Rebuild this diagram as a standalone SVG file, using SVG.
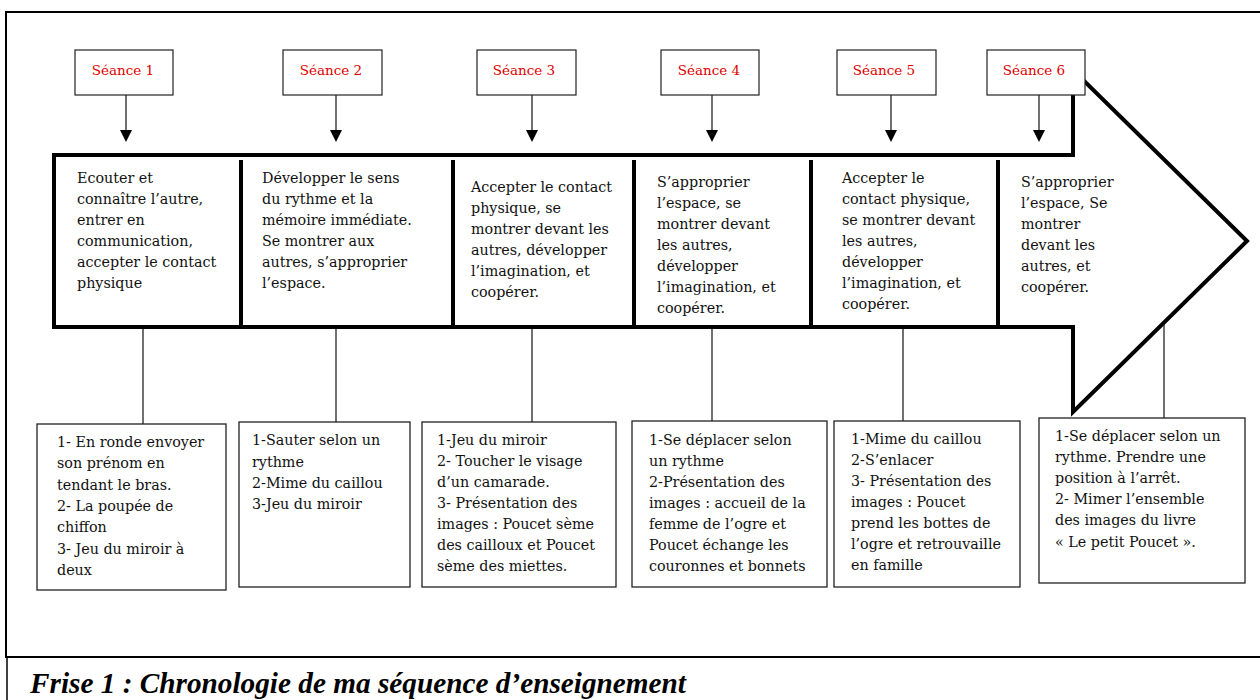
<svg xmlns="http://www.w3.org/2000/svg" width="1260" height="700" viewBox="0 0 1260 700">
<defs>
<marker id="ah" markerWidth="12" markerHeight="12" refX="1" refY="6" orient="auto" markerUnits="userSpaceOnUse" viewBox="0 0 12 12">
<path d="M0,0 L12,6 L0,12 Z" fill="#000"/>
</marker>
<style>
.frame{fill:none;stroke:#000;stroke-width:2}
.sbox{fill:#fff;stroke:#222;stroke-width:1.2}
.slabel{font-family:"DejaVu Serif","Liberation Serif",serif;font-size:13.5px;fill:#e00000;text-anchor:middle}
.big{fill:#fff;stroke:#000;stroke-width:4;stroke-linejoin:miter}
.div{stroke:#000;stroke-width:4}
.t{font-family:"DejaVu Serif","Liberation Serif",serif;font-size:14.3px;fill:#111}
.bbox{fill:#fff;stroke:#222;stroke-width:1.3}
.conn{stroke:#111;stroke-width:1.2;fill:none}
.arr{stroke:#111;stroke-width:1.2;fill:none}
.cap{font-family:"Liberation Serif",serif;font-size:29px;font-weight:bold;font-style:italic;fill:#000}
</style>
</defs>
<rect x="0" y="0" width="1260" height="700" fill="#fff"/>
<g id="frame">
<rect class="frame" x="6" y="12" width="1260" height="645"/>
<line x1="7" y1="657" x2="7" y2="700" stroke="#000" stroke-width="1.5"/>
</g>
<g id="timeline-arrow">
<polygon class="big" points="54,155 1073,155 1073,70 1247,241 1073,412 1073,327 54,327"/>
<line class="div" x1="241" y1="160" x2="241" y2="327"/>
<line class="div" x1="453" y1="160" x2="453" y2="327"/>
<line class="div" x1="634" y1="160" x2="634" y2="327"/>
<line class="div" x1="811" y1="160" x2="811" y2="327"/>
<line class="div" x1="998" y1="160" x2="998" y2="327"/>
</g>
<g id="connectors">
<line class="arr" x1="126" y1="95" x2="126" y2="131" marker-end="url(#ah)"/>
<line class="arr" x1="336" y1="95" x2="336" y2="131" marker-end="url(#ah)"/>
<line class="arr" x1="532" y1="95" x2="532" y2="131" marker-end="url(#ah)"/>
<line class="arr" x1="712" y1="95" x2="712" y2="131" marker-end="url(#ah)"/>
<line class="arr" x1="891" y1="95" x2="891" y2="131" marker-end="url(#ah)"/>
<line class="arr" x1="1039" y1="95" x2="1039" y2="131" marker-end="url(#ah)"/>
<line class="conn" x1="143" y1="329" x2="143" y2="424"/>
<line class="conn" x1="336" y1="329" x2="336" y2="422"/>
<line class="conn" x1="532" y1="329" x2="532" y2="422"/>
<line class="conn" x1="712" y1="329" x2="712" y2="421"/>
<line class="conn" x1="903" y1="329" x2="903" y2="421"/>
<line class="conn" x1="1164" y1="324" x2="1164" y2="418"/>
</g>
<g id="seance1"><rect class="sbox" x="75" y="50" width="98" height="45"/><text class="slabel" x="123" y="75">Séance 1</text></g>
<g id="seance2"><rect class="sbox" x="283" y="50" width="99" height="45"/><text class="slabel" x="331" y="75">Séance 2</text></g>
<g id="seance3"><rect class="sbox" x="477" y="50" width="99" height="45"/><text class="slabel" x="524" y="75">Séance 3</text></g>
<g id="seance4"><rect class="sbox" x="661" y="50" width="98" height="45"/><text class="slabel" x="709" y="75">Séance 4</text></g>
<g id="seance5"><rect class="sbox" x="837" y="50" width="99" height="45"/><text class="slabel" x="884" y="75">Séance 5</text></g>
<g id="seance6"><rect class="sbox" x="987" y="50" width="98" height="45"/><text class="slabel" x="1034" y="75">Séance 6</text></g>
<g id="objectif1"><text class="t">
<tspan x="77" y="183">Ecouter et</tspan>
<tspan x="77" y="204">connaître l’autre,</tspan>
<tspan x="77" y="225">entrer en</tspan>
<tspan x="77" y="246">communication,</tspan>
<tspan x="77" y="267">accepter le contact</tspan>
<tspan x="77" y="288">physique</tspan></text></g>
<g id="objectif2"><text class="t">
<tspan x="262" y="183">Développer le sens</tspan>
<tspan x="262" y="204">du rythme et la</tspan>
<tspan x="262" y="225">mémoire immédiate.</tspan>
<tspan x="262" y="246">Se montrer aux</tspan>
<tspan x="262" y="267">autres, s’approprier</tspan>
<tspan x="262" y="288">l’espace.</tspan></text></g>
<g id="objectif3"><text class="t">
<tspan x="471" y="192">Accepter le contact</tspan>
<tspan x="471" y="213">physique, se</tspan>
<tspan x="471" y="234">montrer devant les</tspan>
<tspan x="471" y="255">autres, développer</tspan>
<tspan x="471" y="276">l’imagination, et</tspan>
<tspan x="471" y="297">coopérer.</tspan></text></g>
<g id="objectif4"><text class="t">
<tspan x="657" y="187">S’approprier</tspan>
<tspan x="657" y="208">l’espace, se</tspan>
<tspan x="657" y="229">montrer devant</tspan>
<tspan x="657" y="250">les autres,</tspan>
<tspan x="657" y="271">développer</tspan>
<tspan x="657" y="292">l’imagination, et</tspan>
<tspan x="657" y="313">coopérer.</tspan></text></g>
<g id="objectif5"><text class="t">
<tspan x="842" y="183">Accepter le</tspan>
<tspan x="842" y="204">contact physique,</tspan>
<tspan x="842" y="225">se montrer devant</tspan>
<tspan x="842" y="246">les autres,</tspan>
<tspan x="842" y="267">développer</tspan>
<tspan x="842" y="288">l’imagination, et</tspan>
<tspan x="842" y="309">coopérer.</tspan></text></g>
<g id="objectif6"><text class="t">
<tspan x="1021" y="187">S’approprier</tspan>
<tspan x="1021" y="208">l’espace, Se</tspan>
<tspan x="1021" y="229">montrer</tspan>
<tspan x="1021" y="250">devant les</tspan>
<tspan x="1021" y="271">autres, et</tspan>
<tspan x="1021" y="292">coopérer.</tspan></text></g>
<g id="activites1"><rect class="bbox" x="37" y="424" width="189" height="166"/><text class="t">
<tspan x="57" y="447">1- En ronde envoyer</tspan>
<tspan x="57" y="468">son prénom en</tspan>
<tspan x="57" y="490">tendant le bras.</tspan>
<tspan x="57" y="511">2- La poupée de</tspan>
<tspan x="57" y="532">chiffon</tspan>
<tspan x="57" y="554">3- Jeu du miroir à</tspan>
<tspan x="57" y="575">deux</tspan></text></g>
<g id="activites2"><rect class="bbox" x="239" y="422" width="171" height="165"/><text class="t">
<tspan x="252" y="445">1-Sauter selon un</tspan>
<tspan x="252" y="467">rythme</tspan>
<tspan x="252" y="488">2-Mime du caillou</tspan>
<tspan x="252" y="509">3-Jeu du miroir</tspan></text></g>
<g id="activites3"><rect class="bbox" x="422" y="422" width="194" height="165"/><text class="t">
<tspan x="437" y="445">1-Jeu du miroir</tspan>
<tspan x="437" y="466">2- Toucher le visage</tspan>
<tspan x="437" y="487">d’un camarade.</tspan>
<tspan x="437" y="508">3- Présentation des</tspan>
<tspan x="437" y="529">images : Poucet sème</tspan>
<tspan x="437" y="550">des cailloux et Poucet</tspan>
<tspan x="437" y="571">sème des miettes.</tspan></text></g>
<g id="activites4"><rect class="bbox" x="632" y="421" width="195" height="166"/><text class="t">
<tspan x="649" y="445">1-Se déplacer selon</tspan>
<tspan x="649" y="466">un rythme</tspan>
<tspan x="649" y="487">2-Présentation des</tspan>
<tspan x="649" y="508">images : accueil de la</tspan>
<tspan x="649" y="529">femme de l’ogre et</tspan>
<tspan x="649" y="550">Poucet échange les</tspan>
<tspan x="649" y="571">couronnes et bonnets</tspan></text></g>
<g id="activites5"><rect class="bbox" x="834" y="421" width="186" height="166"/><text class="t">
<tspan x="851" y="444">1-Mime du caillou</tspan>
<tspan x="851" y="465">2-S’enlacer</tspan>
<tspan x="851" y="486">3- Présentation des</tspan>
<tspan x="851" y="507">images : Poucet</tspan>
<tspan x="851" y="528">prend les bottes de</tspan>
<tspan x="851" y="549">l’ogre et retrouvaille</tspan>
<tspan x="851" y="570">en famille</tspan></text></g>
<g id="activites6"><rect class="bbox" x="1039" y="418" width="206" height="165"/><text class="t">
<tspan x="1055" y="441">1-Se déplacer selon un</tspan>
<tspan x="1055" y="462">rythme. Prendre une</tspan>
<tspan x="1055" y="483">position à l’arrêt.</tspan>
<tspan x="1055" y="504">2- Mimer l’ensemble</tspan>
<tspan x="1055" y="525">des images du livre</tspan>
<tspan x="1055" y="547">« Le petit Poucet ».</tspan></text></g>
<g id="caption"><text class="cap" x="30" y="693" textLength="656" lengthAdjust="spacingAndGlyphs">Frise 1 : Chronologie de ma séquence d’enseignement</text></g>
</svg>
